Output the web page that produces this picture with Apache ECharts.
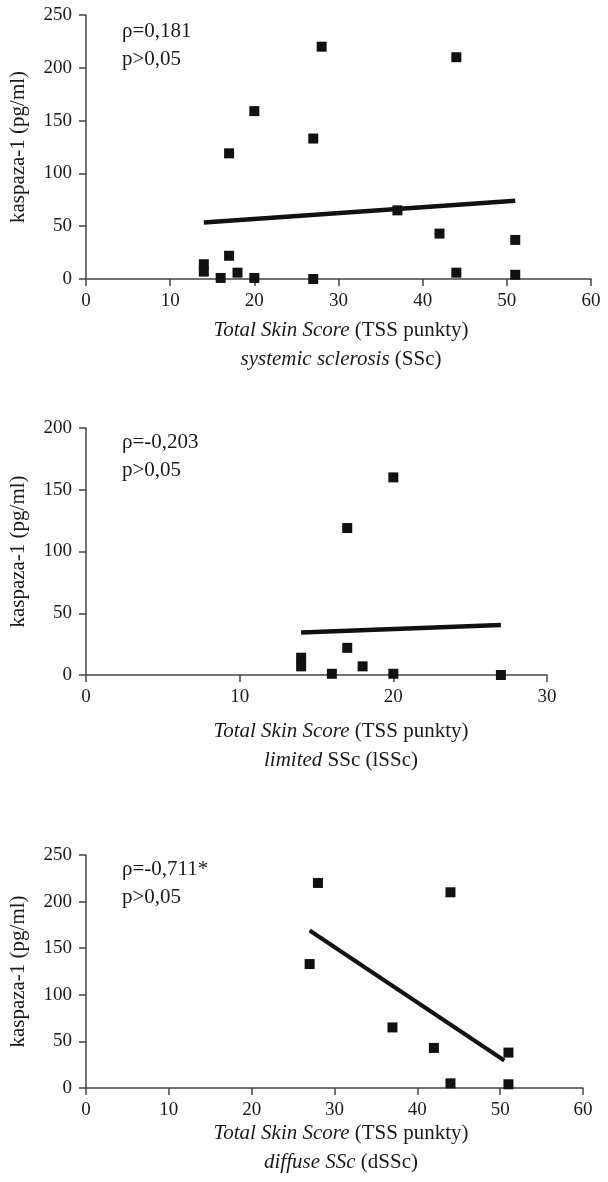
<!DOCTYPE html>
<html>
<head>
    <meta charset="utf-8" />
    <title>kaspaza-1 vs TSS</title>
    <script src="https://cdn.jsdelivr.net/npm/echarts@6/dist/echarts.min.js"></script>
    <style>
        html, body { margin: 0; padding: 0; background: #fff; }
        #main { width: 608px; height: 1182px; }
    </style>
</head>
<body>
    <div id="main"></div>
</body>
</html>
<script>
    // SSc - wszyscy pacjenci
    var sscX = [14, 14, 16, 17, 17, 18, 20, 20, 27, 27, 28, 37, 42, 44, 44, 51, 51];
    var sscY = [14, 7, 1, 119, 22, 6, 159, 1, 133, 0, 220, 65, 43, 210, 6, 37, 4];
    var sscFitX = [14, 51];
    var sscFitY = [53.5, 74];

    // lSSc
    var lsscX = [14, 14, 16, 17, 17, 18, 20, 20, 27];
    var lsscY = [14, 7, 1, 119, 22, 7, 160, 1, 0];
    var lsscFitX = [14, 27];
    var lsscFitY = [34.5, 40.5];

    // dSSc
    var dsscX = [27, 28, 37, 42, 44, 44, 51, 51];
    var dsscY = [133, 220, 65, 43, 210, 5, 38, 4];
    var dsscFitX = [27, 50.5];
    var dsscFitY = [169, 29.5];

    var xMax = [60, 30, 60];
    var yMax = [250, 200, 250];
    var rhoText = ["ρ=0,181", "ρ=-0,203", "ρ=-0,711*"];
    var pText = ["p>0,05", "p>0,05", "p>0,05"];
    var groupText = [
        ["systemic sclerosis", " (SSc)"],
        ["limited", " SSc (lSSc)"],
        ["diffuse SSc", " (dSSc)"]
    ];

    var FONT = "Liberation Serif";
    var AX = "#444";
    var TXT = "#1a1a1a";

    function pairs(xs, ys) {
        var out = [];
        for (var i = 0; i < xs.length; i++) out.push([xs[i], ys[i]]);
        return out;
    }

    var grids = [
        { left: 86, right: 17, top: 15, height: 264 },
        { left: 85, right: 61, top: 428, height: 247 },
        { left: 85, right: 25, top: 855, height: 233 }
    ];
    var titleY = [330, 731, 1133];   // srodek pierwszej linii podpisu osi X
    var noteY = [30, 441, 868];

    var xAxes = [], yAxes = [], series = [], graphics = [];
    for (var g = 0; g < 3; g++) {
        xAxes.push({
            gridIndex: g, type: "value", min: 0, max: xMax[g], interval: 10,
            axisLine: { show: true, lineStyle: { color: AX, width: 1.5 } },
            axisTick: { show: true, length: 7, lineStyle: { color: AX, width: 1.5 } },
            axisLabel: { color: TXT, fontFamily: FONT, fontSize: 19, margin: 13 },
            splitLine: { show: false }
        });
        yAxes.push({
            gridIndex: g, type: "value", min: 0, max: yMax[g], interval: 50,
            name: "kaspaza-1 (pg/ml)", nameLocation: "middle", nameGap: 57,
            nameTextStyle: { color: TXT, fontFamily: FONT, fontSize: 21 },
            axisLine: { show: true, lineStyle: { color: AX, width: 1.5 } },
            axisTick: { show: true, length: 7, lineStyle: { color: AX, width: 1.5 } },
            axisLabel: { color: TXT, fontFamily: FONT, fontSize: 19, margin: 14 },
            splitLine: { show: false }
        });
        graphics.push({
            type: "text", left: 122, top: noteY[g] - 13,
            style: { text: rhoText[g] + "\n" + pText[g], fontFamily: FONT, fontSize: 21, lineHeight: 28, fill: TXT }
        });
        graphics.push({
            type: "text", x: 341, y: titleY[g] + 14.5,
            style: {
                text: "{i|Total Skin Score} (TSS punkty)\n{i|" + groupText[g][0] + "}" + groupText[g][1],
                align: "center", verticalAlign: "middle",
                fontFamily: FONT, fontSize: 21, lineHeight: 29, fill: TXT,
                rich: { i: { fontStyle: "italic", fontFamily: FONT, fontSize: 21, lineHeight: 29, fill: TXT } }
            }
        });
    }

    var sets = [[sscX, sscY, sscFitX, sscFitY, 4.5], [lsscX, lsscY, lsscFitX, lsscFitY, 4.5], [dsscX, dsscY, dsscFitX, dsscFitY, 4]];
    sets.forEach(function (s, g) {
        series.push({
            type: "line", xAxisIndex: g, yAxisIndex: g, data: pairs(s[2], s[3]),
            showSymbol: false, symbol: "none", lineStyle: { color: "#111", width: s[4] }, z: 3, silent: true
        });
        series.push({
            type: "scatter", xAxisIndex: g, yAxisIndex: g, data: pairs(s[0], s[1]),
            symbol: "rect", symbolSize: 10, itemStyle: { color: "#111", opacity: 1 }, clip: false, z: 4
        });
    });

    var myChart = echarts.init(document.getElementById("main"), null, { renderer: "canvas" });
    myChart.setOption({
        animation: false,
        backgroundColor: "#fff",
        grid: grids,
        xAxis: xAxes,
        yAxis: yAxes,
        series: series,
        graphic: graphics
    });
</script>
